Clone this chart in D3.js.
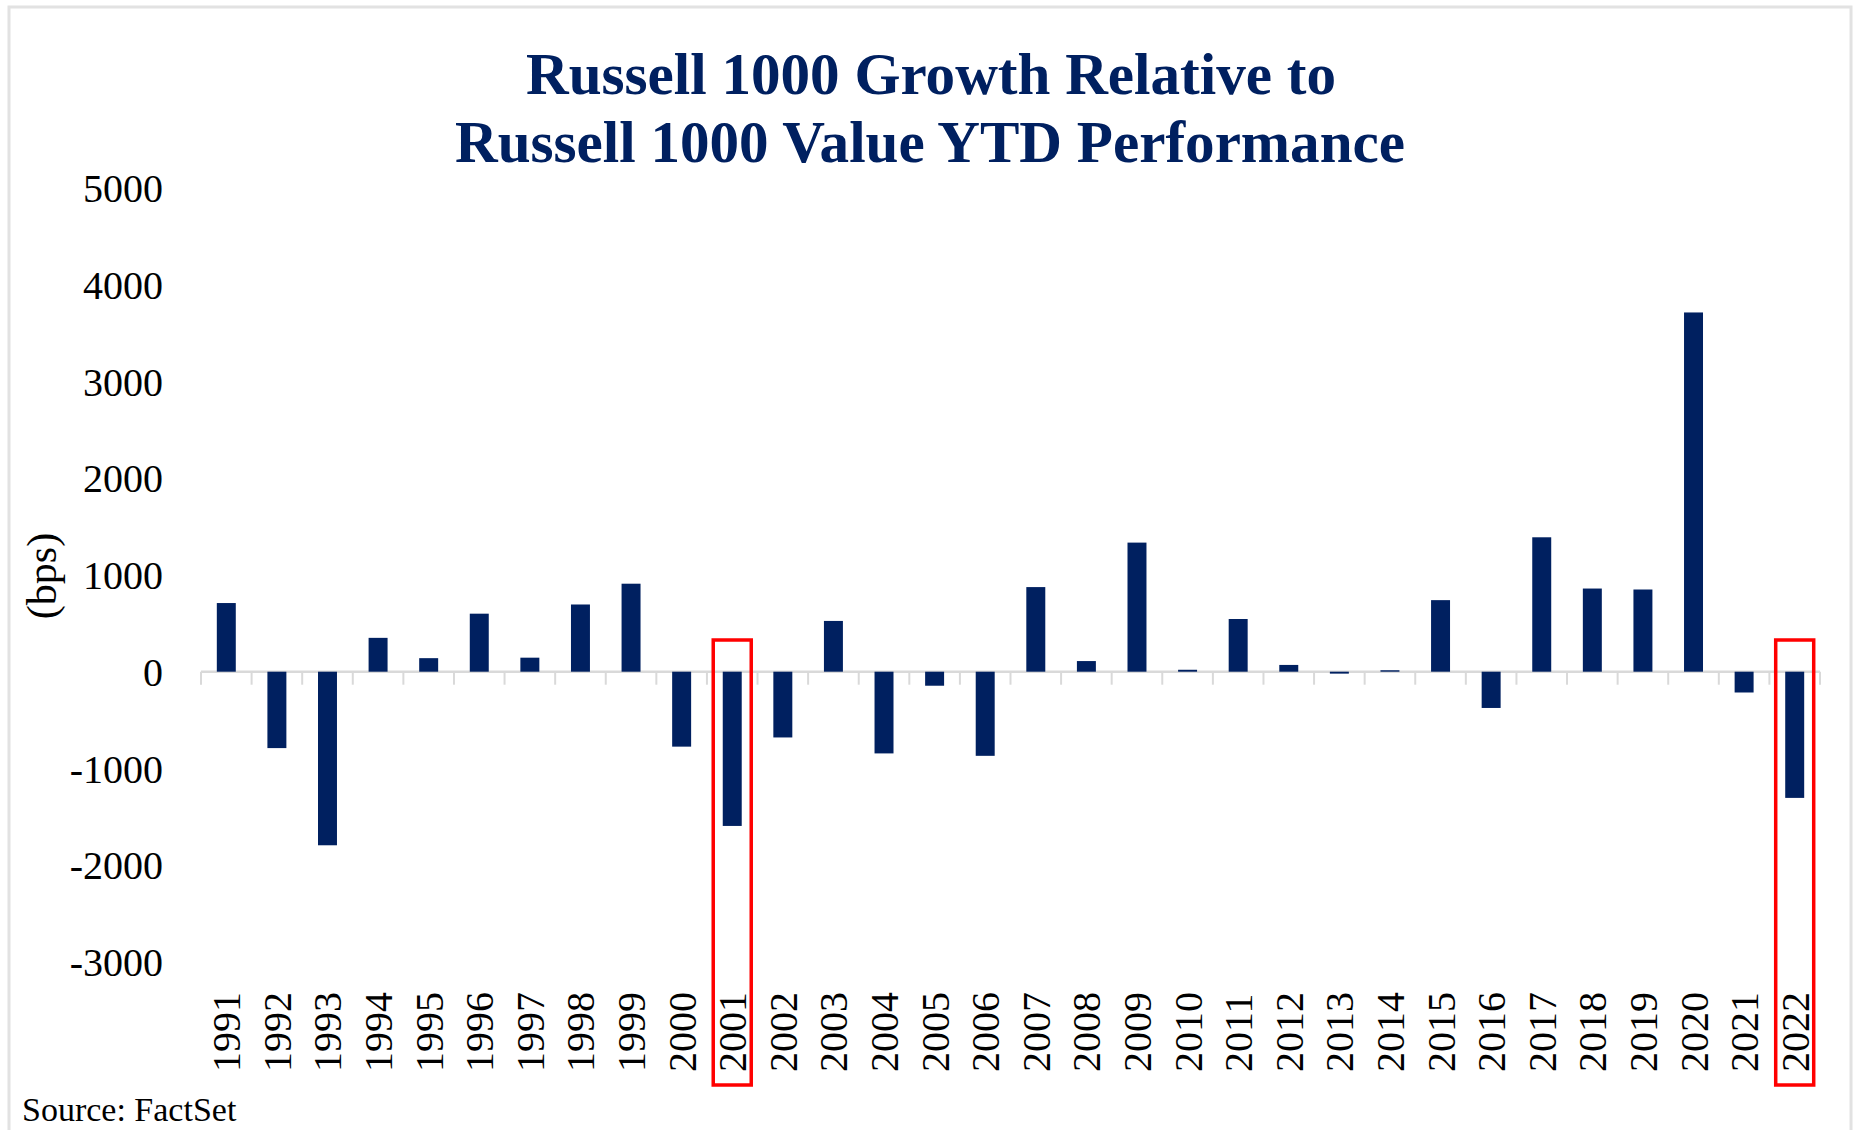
<!DOCTYPE html>
<html>
<head>
<meta charset="utf-8">
<script src="https://cdn.jsdelivr.net/npm/d3@7"></script>
<style>
  html, body { margin: 0; padding: 0; background: #ffffff; }
  svg { display: block; }
</style>
</head>
<body>
<svg id="chart" width="1854" height="1130"></svg>
<script>
// ---- Data ----
const years = ["1991","1992","1993","1994","1995","1996","1997","1998","1999","2000",
               "2001","2002","2003","2004","2005","2006","2007","2008","2009","2010",
               "2011","2012","2013","2014","2015","2016","2017","2018","2019","2020",
               "2021","2022"];
const relPerfBps = [710, -790, -1795, 350, 140, 600, 145, 695, 910, -775,
                    -1595, -680, 525, -845, -145, -870, 875, 110, 1335, 20,
                    545, 70, -20, 15, 740, -375, 1390, 860, 850, 3715,
                    -215, -1305];
const yTickValues = [-3000, -2000, -1000, 0, 1000, 2000, 3000, 4000, 5000];
const highlightedYears = ["2001", "2022"];
const titleLines = ["Russell 1000 Growth Relative to", "Russell 1000 Value YTD Performance"];
const yAxisLabel = "(bps)";
const sourceText = "Source: FactSet";

// ---- Layout ----
const svg = d3.select("#chart");
const plotLeft = 201, plotRight = 1820;
const navy = "#002060";
const serif = "'Liberation Serif', 'Times New Roman', serif";

// outer frame
svg.append("rect")
  .attr("x", 9).attr("y", 7)
  .attr("width", 1842).attr("height", 1140)
  .attr("fill", "none").attr("stroke", "#e2e2e2").attr("stroke-width", 3);

// scales
const x = d3.scaleBand().domain(years).range([plotLeft, plotRight])
  .paddingInner(0.625).paddingOuter(0.3125);
const step = x.step();
const bw = x.bandwidth();
const cx = d => x(d) + bw / 2;
const y = d3.scaleLinear().domain([-3000, 5000]).range([961.8, 188.2]);

// title
const title = svg.append("g").attr("font-family", serif).attr("font-weight", "bold")
  .attr("fill", navy).attr("text-anchor", "middle");
title.append("text").attr("x", 931).attr("y", 94).attr("font-size", 59)
  .attr("textLength", 810).attr("lengthAdjust", "spacingAndGlyphs").text(titleLines[0]);
title.append("text").attr("x", 930).attr("y", 162).attr("font-size", 59)
  .attr("textLength", 950).attr("lengthAdjust", "spacingAndGlyphs").text(titleLines[1]);

// y axis (labels only)
const yAxis = d3.axisLeft(y).tickValues(yTickValues).tickSize(0).tickPadding(10)
  .tickFormat(d => String(d));
const yg = svg.append("g").attr("transform", "translate(173,0)").call(yAxis);
yg.select(".domain").remove();
yg.selectAll("text").attr("font-family", serif).attr("font-size", 40)
  .attr("fill", "#000").attr("dy", "0.34em");

// y axis title
svg.append("text")
  .attr("transform", "translate(56,576) rotate(-90)")
  .attr("text-anchor", "middle")
  .attr("font-family", serif).attr("font-size", 42).attr("fill", "#000")
  .text(yAxisLabel);

// zero axis line with category tick marks
const y0 = y(0);
svg.append("line")
  .attr("x1", plotLeft).attr("x2", plotRight)
  .attr("y1", y0).attr("y2", y0)
  .attr("stroke", "#d9d9d9").attr("stroke-width", 2.5);
const tickXs = years.map(d => cx(d) - step / 2).concat([cx(years[years.length - 1]) + step / 2]);
svg.append("g").selectAll("line").data(tickXs).join("line")
  .attr("x1", d => d).attr("x2", d => d)
  .attr("y1", y0).attr("y2", y0 + 13)
  .attr("stroke", "#d9d9d9").attr("stroke-width", 2);

// bars
const data = years.map((yr, i) => ({ year: yr, value: relPerfBps[i] }));
svg.append("g").selectAll("rect").data(data).join("rect")
  .attr("x", d => x(d.year))
  .attr("width", bw)
  .attr("y", d => y(Math.max(0, d.value)))
  .attr("height", d => Math.max(1, Math.abs(y(d.value) - y0)))
  .attr("fill", navy);

// category labels (rotated, below plot)
svg.append("g").selectAll("text").data(years).join("text")
  .attr("transform", d => `translate(${cx(d)},1072) rotate(-90)`)
  .attr("dy", "0.35em")
  .attr("text-anchor", "start")
  .attr("font-family", serif).attr("font-size", 40).attr("fill", "#000")
  .text(d => d);

// highlight boxes
svg.append("g").selectAll("rect").data(highlightedYears).join("rect")
  .attr("x", d => cx(d) - 19)
  .attr("width", 38)
  .attr("y", 640)
  .attr("height", 445)
  .attr("fill", "none").attr("stroke", "#ff0000").attr("stroke-width", 3.5);

// source
svg.append("text").attr("x", 22).attr("y", 1121)
  .attr("font-family", serif).attr("font-size", 34).attr("fill", "#000")
  .text(sourceText);
</script>
</body>
</html>
